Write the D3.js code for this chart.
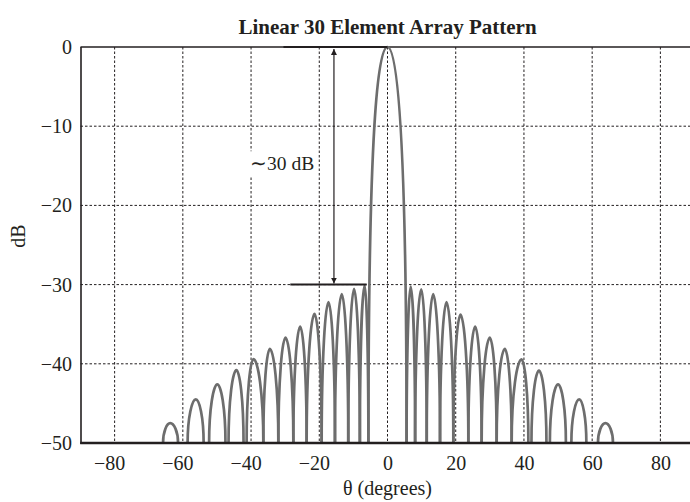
<!DOCTYPE html>
<html>
<head>
<meta charset="utf-8">
<script src="https://cdn.jsdelivr.net/npm/d3@7"></script>
<style>
body { margin: 0; background: #fff; }
text { font-family: "Liberation Serif", "Times New Roman", serif; fill: #231f20; }
</style>
</head>
<body>
<svg id="chart"></svg>
<script>
// axis ticks
var thetaTicks = [-80, -60, -40, -20, 0, 20, 40, 60, 80];
var dbTicks = [0, -10, -20, -30, -40, -50];

// lobes: where each lobe leaves/returns to the -50 dB floor, and its peak
var lobeStart  = [-65.8, -58.6, -52.3, -46.6, -41.3, -36.4, -32.0, -27.6, -23.7, -19.3, -15.4, -11.5, -8.1,
                  -5.6,
                   5.6,   8.1,  11.5,  15.4,  19.3,  23.7,  27.6,  32.0,  36.4,  42.2,  47.6,  53.9,  61.7];
var lobeEnd    = [-61.4, -53.9, -47.5, -42.2, -36.4, -32.0, -27.6, -23.7, -19.3, -15.4, -11.5,  -8.1, -5.6,
                   5.6,
                   8.1,  11.5,  15.4,  19.3,  23.7,  27.6,  32.0,  36.4,  41.3,  46.6,  52.3,  58.3,  66.1];
var lobePeakAt = [-63.7, -56.2, -49.9, -44.3, -39.3, -34.5, -29.9, -25.6, -21.4, -17.3, -13.4,  -9.8, -6.7,
                   0,
                   6.8,   9.9,  13.4,  17.3,  21.4,  25.7,  30.0,  34.4,  39.3,  44.4,  50.0,  56.2,  63.9];
var lobePeakDb = [-47.5, -44.5, -42.6, -40.8, -39.4, -38.1, -36.7, -35.3, -33.7, -32.2, -31.2, -30.55, -30.1,
                   0,
                 -30.25, -30.6, -31.2, -32.2, -33.8, -35.3, -36.7, -38.1, -39.45, -40.85, -42.6, -44.5, -47.5];

// annotation: the 0 dB and ~-30 dB reference lines and the arrow between them
var refTop = {from: -30.5, to: 0, db: 0};
var refSide = {from: -28.5, to: -6.1, db: -30};
var arrowAt = -15.7;
var noteText = "\u223c30 dB", noteAt = -40.3, noteDb = -14.7;

var W = 690, H = 502;
var margin = {top: 47, left: 81, bottom: 59};
var svg = d3.select("#chart").attr("width", W).attr("height", H);

var x = d3.scaleLinear().domain([-90, 90]).range([80.5, 694.5]);
var y = d3.scaleLinear().domain([0, -50]).range([margin.top, H - margin.bottom]);

var fmt = function(d) { return d < 0 ? "\u2212" + (-d) : "" + d; };
var fs = 20;

// grid
svg.append("g").selectAll("line").data(thetaTicks).enter().append("line")
    .attr("x1", function(d) { return x(d); }).attr("x2", function(d) { return x(d); })
    .attr("y1", y(0)).attr("y2", y(-50))
    .attr("stroke", "#231f20").attr("stroke-width", 1).attr("stroke-dasharray", "2.5,2");
svg.append("g").selectAll("line").data(dbTicks.filter(function(d) { return d < 0 && d > -50; })).enter().append("line")
    .attr("x1", x(-90)).attr("x2", x(90))
    .attr("y1", function(d) { return y(d); }).attr("y2", function(d) { return y(d); })
    .attr("stroke", "#231f20").attr("stroke-width", 1).attr("stroke-dasharray", "2.5,2");

// axes
var xAxis = svg.append("g").attr("transform", "translate(0," + y(-50) + ")")
    .call(d3.axisBottom(x).tickValues(thetaTicks).tickSize(0).tickPadding(13).tickFormat(fmt));
xAxis.select(".domain").remove();
xAxis.selectAll("text").attr("font-size", fs).attr("font-family", "Liberation Serif").attr("fill", "#231f20")
    .attr("dx", function(d) { return d < 0 ? -5.5 : 0; });

var yAxis = svg.append("g").attr("transform", "translate(" + margin.left + ",0)")
    .call(d3.axisLeft(y).tickValues(dbTicks).tickSize(0).tickPadding(9).tickFormat(fmt));
yAxis.select(".domain").remove();
yAxis.selectAll("text").attr("font-size", fs).attr("font-family", "Liberation Serif").attr("fill", "#231f20");

svg.append("line").attr("x1", x(-90)).attr("x2", x(90)).attr("y1", y(0)).attr("y2", y(0))
    .attr("stroke", "#231f20").attr("stroke-width", 1.3);
svg.append("line").attr("x1", margin.left).attr("x2", margin.left).attr("y1", y(0)).attr("y2", y(-50) + 1)
    .attr("stroke", "#231f20").attr("stroke-width", 1.6);

// annotation text with white backing
var noteG = svg.append("g");
var note = noteG.append("text").attr("x", x(noteAt)).attr("y", y(noteDb)).attr("dy", "0.35em")
    .attr("font-size", 19.5).text(noteText);
var bb = note.node().getBBox();
noteG.insert("rect", "text").attr("x", bb.x - 1).attr("y", bb.y - 2).attr("width", bb.width + 2).attr("height", bb.height + 4)
    .attr("fill", "#fff");

// pattern lobes
var lobes = d3.range(lobeStart.length).map(function(i) {
    return {s: lobeStart[i], e: lobeEnd[i], p: lobePeakAt[i], db: lobePeakDb[i], main: lobePeakDb[i] === 0};
});
function lobePath(d) {
    var x0 = x(d.s), x1 = x(d.e), xp = x(d.p), yb = y(-50), yp = y(d.db);
    var a = d.main ? 0.5 : 0.45, b = d.main ? 0.8 : 0.6;
    var p = d3.path();
    p.moveTo(x0, yb);
    p.bezierCurveTo(x0, yb + b * (yp - yb), xp - a * (xp - x0), yp, xp, yp);
    p.bezierCurveTo(xp + a * (x1 - xp), yp, x1, yb + b * (yp - yb), x1, yb);
    return p.toString();
}
svg.append("g").selectAll("path").data(lobes).enter().append("path")
    .attr("d", lobePath)
    .attr("fill", "none").attr("stroke", "#6d6d6d").attr("stroke-width", 2.7)
    .attr("stroke-linejoin", "round");

// reference lines
svg.append("line").attr("x1", x(refTop.from)).attr("x2", x(refTop.to)).attr("y1", y(refTop.db)).attr("y2", y(refTop.db))
    .attr("stroke", "#231f20").attr("stroke-width", 2);
svg.append("line").attr("x1", x(refSide.from)).attr("x2", x(refSide.to)).attr("y1", y(refSide.db)).attr("y2", y(refSide.db))
    .attr("stroke", "#231f20").attr("stroke-width", 2);

svg.append("defs").append("marker").attr("id", "arr")
    .attr("viewBox", "0 0 10 10").attr("refX", 10).attr("refY", 5)
    .attr("markerWidth", 6).attr("markerHeight", 8).attr("markerUnits", "userSpaceOnUse")
    .attr("orient", "auto-start-reverse")
    .append("path").attr("d", "M0,0 L10,5 L0,10 Z").attr("fill", "#231f20");
svg.append("line").attr("x1", x(arrowAt)).attr("x2", x(arrowAt)).attr("y1", y(0) + 2).attr("y2", y(-30) - 1)
    .attr("stroke", "#231f20").attr("stroke-width", 1.2)
    .attr("marker-start", "url(#arr)").attr("marker-end", "url(#arr)");

svg.append("line").attr("x1", margin.left - 0.8).attr("x2", W).attr("y1", y(-50)).attr("y2", y(-50))
    .attr("stroke", "#231f20").attr("stroke-width", 2.4);

// titles
svg.append("text").attr("x", x(0)).attr("y", 34).attr("text-anchor", "middle")
    .attr("font-size", 21).attr("font-weight", "bold").text("Linear 30 Element Array Pattern");
svg.append("text").attr("x", x(0)).attr("y", 495).attr("text-anchor", "middle")
    .attr("font-size", fs).text("\u03b8 (degrees)");
svg.append("text").attr("transform", "translate(25," + 236 + ") rotate(-90)").attr("text-anchor", "middle")
    .attr("font-size", fs).text("dB");
</script>
</body>
</html>
